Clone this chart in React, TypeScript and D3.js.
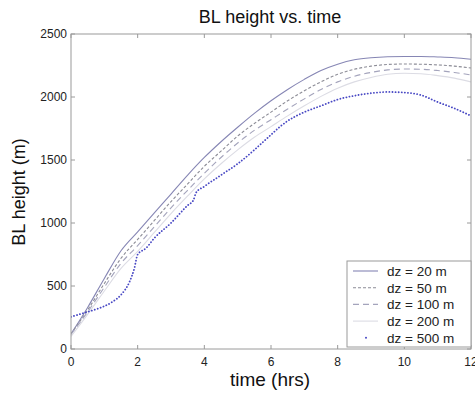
import React from "react";
import * as d3 from "d3";

const hours = [0, 0.5, 1, 1.5, 2, 2.5, 3, 3.5, 4, 4.5, 5, 5.5, 6, 6.5, 7, 7.5, 8, 8.5, 9, 9.5, 10, 10.5, 11, 11.5, 12];
const dz20 = [120, 330, 560, 780, 930, 1080, 1230, 1380, 1520, 1645, 1760, 1870, 1970, 2060, 2140, 2210, 2260, 2295, 2312, 2320, 2322, 2322, 2318, 2312, 2300];
const dz50 = [120, 310, 520, 720, 870, 1020, 1170, 1310, 1450, 1570, 1690, 1790, 1880, 1970, 2050, 2120, 2180, 2220, 2245, 2258, 2262, 2260, 2255, 2245, 2230];
const dz100 = [115, 295, 490, 680, 820, 970, 1120, 1260, 1395, 1520, 1635, 1735, 1820, 1905, 1985, 2060, 2120, 2165, 2195, 2215, 2222, 2220, 2210, 2195, 2175];
const dz200 = [100, 275, 460, 640, 775, 925, 1075, 1215, 1350, 1470, 1580, 1680, 1765, 1850, 1930, 2005, 2070, 2120, 2155, 2180, 2188, 2185, 2170, 2150, 2120];

const hours500 = [0, 0.25, 0.5, 0.75, 1, 1.25, 1.5, 1.75, 1.9, 2, 2.25, 2.5, 3, 3.5, 3.67, 3.75, 4, 4.5, 5, 5.5, 5.75, 6, 6.25, 6.5, 7, 7.5, 8, 8.5, 9, 9.5, 10, 10.5, 11, 11.5, 12];
const dz500 = [255, 275, 295, 315, 340, 375, 430, 530, 640, 750, 800, 880, 1000, 1140, 1180, 1240, 1290, 1380, 1470, 1580, 1640, 1700, 1760, 1810, 1880, 1930, 1980, 2010, 2030, 2040, 2035, 2015, 1960, 1910, 1850];

const xTicks = [0, 2, 4, 6, 8, 10, 12];
const yTicks = [0, 500, 1000, 1500, 2000, 2500];
const legendLabels = ["dz = 20 m", "dz = 50 m", "dz = 100 m", "dz = 200 m", "dz = 500 m"];

const styles = [
  { color: "#8686b4", dash: "", width: 1.1, cap: "butt" },
  { color: "#8c8c96", dash: "3 2", width: 1.1, cap: "butt" },
  { color: "#a4a4bc", dash: "6 4", width: 1.1, cap: "butt" },
  { color: "#dcdce4", dash: "", width: 1.1, cap: "butt" },
  { color: "#4848c4", dash: "0.1 3", width: 1.8, cap: "round" },
];

export default function App() {
  const W = 475, H = 395;
  const L = 71, R = 471, T = 34, B = 349;
  const x = d3.scaleLinear().domain([0, 12]).range([L, R]);
  const y = d3.scaleLinear().domain([0, 2500]).range([B, T]);
  const line = d3.line<number>().curve(d3.curveMonotoneX);
  const series = [
    { xs: hours, ys: dz20 },
    { xs: hours, ys: dz50 },
    { xs: hours, ys: dz100 },
    { xs: hours, ys: dz200 },
    { xs: hours500, ys: dz500 },
  ];
  const font = "Liberation Sans, Arial, Helvetica, sans-serif";
  const axisColor = "#9a9a9a";
  const lx = 347, ly = 261, lw = 124, lh = 86;
  return (
    <svg width={W} height={H} style={{ position: "absolute", left: 0, top: 0, background: "#fff" }} fontFamily={font}>
      <rect x={0} y={0} width={W} height={H} fill="#fff" />
      <defs>
        <clipPath id="plot">
          <rect x={L} y={T} width={R - L} height={B - T} />
        </clipPath>
      </defs>
      {/* series */}
      <g clipPath="url(#plot)">
        {series.map((s, i) => {
          const pts = s.xs.map((t, j) => [x(t), y(s.ys[j])] as [number, number]);
          const d = d3.line().curve(d3.curveMonotoneX)(pts) || "";
          return (
            <path key={i} d={d} fill="none" stroke={styles[i].color} strokeWidth={styles[i].width}
              strokeDasharray={styles[i].dash || undefined} strokeLinecap={styles[i].cap as any} />
          );
        })}
      </g>
      {/* axes box */}
      <rect x={L} y={T} width={R - L} height={B - T} fill="none" stroke={axisColor} strokeWidth={1} />
      {xTicks.map((t) => (
        <g key={"x" + t}>
          <line x1={x(t)} x2={x(t)} y1={B} y2={B - 4} stroke={axisColor} />
          <line x1={x(t)} x2={x(t)} y1={T} y2={T + 4} stroke={axisColor} />
          <text x={x(t)} y={B + 17} fontSize={12} textAnchor="middle" fill="#222">{t}</text>
        </g>
      ))}
      {yTicks.map((v) => (
        <g key={"y" + v}>
          <line x1={L} x2={L + 4} y1={y(v)} y2={y(v)} stroke={axisColor} />
          <line x1={R} x2={R - 4} y1={y(v)} y2={y(v)} stroke={axisColor} />
          <text x={L - 4} y={y(v) + 4} fontSize={12} textAnchor="end" fill="#222">{v}</text>
        </g>
      ))}
      {/* legend */}
      <rect x={lx} y={ly} width={lw} height={lh} fill="#fff" stroke={axisColor} />
      {legendLabels.map((lab, i) => {
        const yy = 271 + i * 16.7;
        return (
          <g key={lab}>
            {i < 4 ? (
              <line x1={353} x2={378} y1={yy} y2={yy} stroke={styles[i].color} strokeWidth={styles[i].width}
                strokeDasharray={styles[i].dash || undefined} />
            ) : (
              <circle cx={366} cy={yy} r={1} fill={styles[i].color} />
            )}
            <text x={387} y={yy + 5} fontSize={13.5} fill="#222">{lab}</text>
          </g>
        );
      })}
      {/* titles */}
      <text x={270} y={23} fontSize={18} textAnchor="middle" fill="#111">BL height vs. time</text>
      <text x={270} y={386} fontSize={19} textAnchor="middle" fill="#111">time (hrs)</text>
      <text transform={`translate(25, 192) rotate(-90)`} fontSize={18} textAnchor="middle" fill="#111">BL height (m)</text>
    </svg>
  );
}
